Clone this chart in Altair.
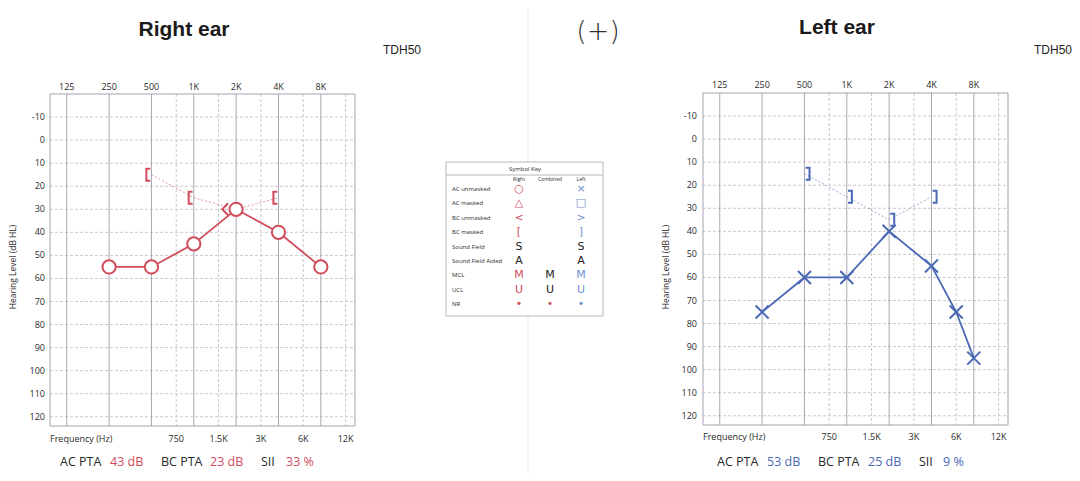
import altair as alt
import pandas as pd

RED = "#d24c5c"
BLUE = "#4a68b4"
TXT = "#2a2a2a"
FONT = "Open Sans"

# ---------------- data ----------------
octave_freqs = [125, 250, 500, 1000, 2000, 4000, 8000]
octave_labels = ["125", "250", "500", "1K", "2K", "4K", "8K"]
half_freqs = [750, 1500, 3000, 6000, 12000]
half_labels = ["750", "1.5K", "3K", "6K", "12K"]
db_ticks = [-10, 0, 10, 20, 30, 40, 50, 60, 70, 80, 90, 100, 110, 120]

right_ac_freq = [250, 500, 1000, 2000, 4000, 8000]
right_ac_db = [55, 55, 45, 30, 40, 55]
right_bcm_freq = [500, 1000, 4000]
right_bcm_db = [15, 25, 25]
right_bcu_freq = [2000]
right_bcu_db = [30]
right_bc_line_freq = [500, 1000, 2000, 4000]
right_bc_line_db = [15, 25, 30, 25]

left_ac_freq = [250, 500, 1000, 2000, 4000, 6000, 8000]
left_ac_db = [75, 60, 60, 40, 55, 75, 95]
left_bcm_freq = [500, 1000, 2000, 4000]
left_bcm_db = [15, 25, 35, 25]

right_stats = [("AC PTA", "43 dB"), ("BC PTA", "23 dB"), ("SII", "33 %")]
left_stats = [("AC PTA", "53 dB"), ("BC PTA", "25 dB"), ("SII", "9 %")]

key_rows = ["AC unmasked", "AC masked", "BC unmasked", "BC masked", "Sound Field",
            "Sound Field Aided", "MCL", "UCL", "NR"]
key_cols = ["Right", "Combined", "Left"]
key_right = ["○", "△", "<", "[", "S", "A", "M", "U", "•"]
key_comb = ["", "", "", "", "", "", "M", "U", "•"]
key_left = ["×", "□", ">", "]", "S", "A", "M", "U", "•"]

FMIN, FMAX = 95, 14000
DBMIN, DBMAX = -20, 124

layers = []


def label(txt, x, y, **kw):
    opts = dict(font=FONT, fontSize=9, color=TXT, align="center", baseline="middle")
    opts.update(kw)
    return alt.Chart(pd.DataFrame({"t": [txt]})).mark_text(**opts).encode(
        x=alt.value(x), y=alt.value(y), text="t:N")


def panel(xr, yr, color, top_y, bot_y, ylab_x, title_x):
    xs = alt.Scale(type="log", domain=[FMIN, FMAX], range=xr, nice=False, zero=False)
    ys = alt.Scale(domain=[DBMIN, DBMAX], range=yr, nice=False, zero=False)
    out = []
    oct_df = pd.DataFrame({"f": octave_freqs, "lab": octave_labels})
    half_df = pd.DataFrame({"f": half_freqs, "lab": half_labels})
    db_df = pd.DataFrame({"db": db_ticks, "lab": [str(v) for v in db_ticks]})
    out.append(alt.Chart(db_df).mark_rule(color="#cacaca", strokeDash=[3, 2], strokeWidth=1).encode(
        y=alt.Y("db:Q", scale=ys, axis=None),
        x=alt.XDatum(FMIN, type="quantitative", scale=xs, axis=None),
        x2=alt.X2Datum(FMAX)))
    out.append(alt.Chart(half_df).mark_rule(color="#cacaca", strokeDash=[3, 2], strokeWidth=1).encode(
        x=alt.X("f:Q", scale=xs, axis=None),
        y=alt.YDatum(DBMIN, type="quantitative", scale=ys, axis=None),
        y2=alt.Y2Datum(DBMAX)))
    out.append(alt.Chart(oct_df).mark_rule(color="#a9a7b6", strokeWidth=1).encode(
        x=alt.X("f:Q", scale=xs, axis=None),
        y=alt.YDatum(DBMIN, type="quantitative", scale=ys, axis=None),
        y2=alt.Y2Datum(DBMAX)))
    out.append(alt.Chart(pd.DataFrame({"a": [0]})).mark_rect(fillOpacity=0, stroke="#a4a2b0", strokeWidth=1).encode(
        x=alt.XDatum(FMIN, type="quantitative", scale=xs, axis=None),
        x2=alt.X2Datum(FMAX),
        y=alt.YDatum(DBMIN, type="quantitative", scale=ys, axis=None),
        y2=alt.Y2Datum(DBMAX)))
    out.append(alt.Chart(oct_df).mark_text(font=FONT, fontSize=9, color=TXT).encode(
        x=alt.X("f:Q", scale=xs, axis=None), y=alt.value(top_y), text="lab:N"))
    out.append(alt.Chart(half_df).mark_text(font=FONT, fontSize=9, color=TXT).encode(
        x=alt.X("f:Q", scale=xs, axis=None), y=alt.value(bot_y), text="lab:N"))
    out.append(alt.Chart(db_df).mark_text(font=FONT, fontSize=9, color=TXT, align="right").encode(
        y=alt.Y("db:Q", scale=ys, axis=None), x=alt.value(ylab_x), text="lab:N"))
    out.append(label("Frequency (Hz)", xr[0], bot_y, align="left"))
    out.append(label("Hearing Level (dB HL)", title_x, 259, angle=270, fontSize=8.5))
    return xs, ys, out


# ---------------- right ear ----------------
xs, ys, lay = panel([42, 347], [86, 418], RED, 79, 431, 37, 5)
layers += lay
layers.append(alt.Chart(pd.DataFrame({"f": right_bc_line_freq, "db": right_bc_line_db})).mark_line(
    color=RED, strokeWidth=1, strokeDash=[2, 2], opacity=0.6).encode(
    x=alt.X("f:Q", scale=xs, axis=None), y=alt.Y("db:Q", scale=ys, axis=None)))
layers.append(alt.Chart(pd.DataFrame({"f": right_ac_freq, "db": right_ac_db})).mark_line(
    color=RED, strokeWidth=1.8).encode(
    x=alt.X("f:Q", scale=xs, axis=None), y=alt.Y("db:Q", scale=ys, axis=None)))
layers.append(alt.Chart(pd.DataFrame({"f": right_ac_freq, "db": right_ac_db})).mark_point(
    shape="circle", filled=True, fill="white", stroke=RED, strokeWidth=2, size=175, opacity=1).encode(
    x=alt.X("f:Q", scale=xs, axis=None), y=alt.Y("db:Q", scale=ys, axis=None)))
layers.append(alt.Chart(pd.DataFrame({"f": right_bcm_freq, "db": right_bcm_db})).mark_point(
    shape="M-0.2,-1L-0.85,-1L-0.85,1L-0.2,1", filled=False, stroke=RED, strokeWidth=2, size=144, opacity=1).encode(
    x=alt.X("f:Q", scale=xs, axis=None), y=alt.Y("db:Q", scale=ys, axis=None)))
layers.append(alt.Chart(pd.DataFrame({"f": right_bcu_freq, "db": right_bcu_db})).mark_point(
    shape="M-1.35,-1L-2.3,0L-1.35,1", filled=False, stroke=RED, strokeWidth=2, size=144, opacity=1).encode(
    x=alt.X("f:Q", scale=xs, axis=None), y=alt.Y("db:Q", scale=ys, axis=None)))

# ---------------- left ear ----------------
xs, ys, lay = panel([695, 1000], [85, 417], BLUE, 77, 429, 689, 658)
layers += lay
layers.append(alt.Chart(pd.DataFrame({"f": left_bcm_freq, "db": left_bcm_db})).mark_line(
    color=BLUE, strokeWidth=1, strokeDash=[2, 2], opacity=0.55).encode(
    x=alt.X("f:Q", scale=xs, axis=None), y=alt.Y("db:Q", scale=ys, axis=None)))
layers.append(alt.Chart(pd.DataFrame({"f": left_ac_freq, "db": left_ac_db})).mark_line(
    color=BLUE, strokeWidth=1.8).encode(
    x=alt.X("f:Q", scale=xs, axis=None), y=alt.Y("db:Q", scale=ys, axis=None)))
layers.append(alt.Chart(pd.DataFrame({"f": left_ac_freq, "db": left_ac_db})).mark_point(
    shape="M-1,-1L1,1M-1,1L1,-1", filled=False, stroke=BLUE, strokeWidth=2, size=170, opacity=1).encode(
    x=alt.X("f:Q", scale=xs, axis=None), y=alt.Y("db:Q", scale=ys, axis=None)))
layers.append(alt.Chart(pd.DataFrame({"f": left_bcm_freq, "db": left_bcm_db})).mark_point(
    shape="M0.2,-1L0.85,-1L0.85,1L0.2,1", filled=False, stroke=BLUE, strokeWidth=2, size=144, opacity=1).encode(
    x=alt.X("f:Q", scale=xs, axis=None), y=alt.Y("db:Q", scale=ys, axis=None)))

# ---------------- stats rows ----------------
for stats, xs_pos, color, y in [(right_stats, [52, 102, 153, 202, 253, 278], RED, 454),
                                (left_stats, [709, 759, 810, 860, 911, 935], BLUE, 454)]:
    for i, (name, val) in enumerate(stats):
        layers.append(label(name, xs_pos[2 * i], y, align="left", fontSize=12.5))
        layers.append(label(val, xs_pos[2 * i + 1], y, align="left", fontSize=12.5, color=color))

# ---------------- titles ----------------
layers.append(alt.Chart(pd.DataFrame({"a": [0]})).mark_rule(color="#efe2e4", strokeWidth=1).encode(
    x=alt.value(520), y=alt.value(0), y2=alt.value(465)))
layers.append(label("Right ear", 176, 22, font="Liberation Sans", fontSize=21, fontWeight="bold", color="#1a1a1a"))
layers.append(label("Left ear", 829, 20, font="Liberation Sans", fontSize=21, fontWeight="bold", color="#1a1a1a"))
layers.append(label("TDH50", 394, 42, font="Liberation Sans", fontSize=12, color="#1e1e1e"))
layers.append(label("TDH50", 1045, 42, font="Liberation Sans", fontSize=12, color="#1e1e1e"))
layers.append(label("(+)", 590, 24, font="DejaVu Sans", fontSize=27, fontWeight=300, color="#333333"))

# ---------------- symbol key ----------------
layers.append(alt.Chart(pd.DataFrame({"a": [0]})).mark_rect(fill="white", stroke="#b8b8b8", strokeWidth=1).encode(
    x=alt.value(438), x2=alt.value(595), y=alt.value(154), y2=alt.value(308)))
layers.append(alt.Chart(pd.DataFrame({"a": [0]})).mark_rule(color="#b8b8b8", strokeWidth=1).encode(
    x=alt.value(438), x2=alt.value(595), y=alt.value(167)))
layers.append(label("Symbol Key", 517, 161, fontSize=6))

kx = alt.Scale(type="point", domain=key_cols, range=[511, 573], padding=0)
ky = alt.Scale(type="point", domain=key_rows, range=[181, 296], padding=0)
layers.append(alt.Chart(pd.DataFrame({"c": key_cols})).mark_text(font=FONT, fontSize=5, color=TXT).encode(
    x=alt.X("c:N", scale=kx, axis=None), y=alt.value(171), text="c:N"))
layers.append(alt.Chart(pd.DataFrame({"r": key_rows})).mark_text(font=FONT, fontSize=6, color=TXT, align="left").encode(
    y=alt.Y("r:N", scale=ky, axis=None), x=alt.value(444), text="r:N"))

key_recs = []
for col, syms in zip(key_cols, [key_right, key_comb, key_left]):
    for r, s in zip(key_rows, syms):
        if s:
            key_recs.append({"c": col, "r": r, "s": s})
key_df = pd.DataFrame(key_recs)
key_color = alt.Color("grp:N", legend=None, scale=alt.Scale(
    domain=["Right", "Combined", "Left", "black"], range=[RED, "#c85a5a", "#6f8fd0", "#222222"]))
layers.append(alt.Chart(key_df).transform_calculate(
    grp="(datum.s == 'S' || datum.s == 'A' || (datum.c == 'Combined' && datum.s != '•')) ? 'black' : datum.c"
).mark_text(font="DejaVu Sans", fontSize=11).encode(
    x=alt.X("c:N", scale=kx, axis=None), y=alt.Y("r:N", scale=ky, axis=None),
    text="s:N", color=key_color))

chart = alt.layer(*layers).resolve_scale(x="independent", y="independent", color="independent").properties(
    width=1064, height=465, autosize=alt.AutoSizeParams(type="none"), padding=0,
    background="white").configure_view(stroke=None)

chart.save("out.html", embed_options={"renderer": "svg", "actions": False})
